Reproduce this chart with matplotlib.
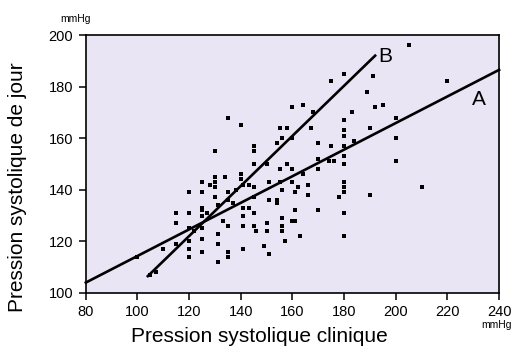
import numpy as np
import matplotlib.pyplot as plt

# clinique (x) vs jour (y)
clin = [205,180,175,191,220,189,160,164,168,192,195,183,180,200,167,155,158,156,160,180,
        180,190,154,170,175,180,184,180,170,174,176,180,200,158,150,155,160,164,170,180,
        180,180,178,180,180,210,190,170,151,155,156,160,161,162,166,166,151,154,154,161,
        161,156,150,150,156,156,157,163,149,151,130,145,145,140,145,140,140,125,130,134,
        130,125,120,130,135,138,141,143,145,145,137,135,115,115,120,125,125,127,141,143,
        145,141,133,135,141,145,146,160,120,125,122,110,115,120,120,125,125,131,131,135,
        135,131,120,141,100,105,107,200,135,130,125,128,131]
jour = [196,185,182,184,182,178,172,173,170,172,173,170,167,168,164,164,164,160,160,163,
        161,164,158,158,157,157,159,153,152,151,151,150,151,150,150,148,148,146,148,143,
        141,139,137,131,122,141,138,132,143,143,140,143,139,141,142,138,136,136,135,132,
        128,129,127,124,126,124,120,122,118,115,155,157,155,165,150,146,144,143,145,145,
        141,139,139,137,139,140,142,142,141,137,135,136,131,127,131,132,130,131,133,133,
        131,130,128,126,126,126,124,128,125,125,124,117,119,120,117,121,116,123,119,116,
        114,112,114,117,114,107,108,160,168,143,133,142,134]

# regression lines (end points in mmHg)
line_a_x = [80, 240]
line_a_y = [104, 186.5]
line_b_x = [104, 192]
line_b_y = [106.5, 192]

fig = plt.figure(figsize=(5.14, 3.47), dpi=100)
plt.rcParams['font.family'] = ['Liberation Sans', 'DejaVu Sans']
ax = fig.add_axes([0.167, 0.156, 0.804, 0.743])
ax.set_facecolor('#e9e5f5')

ax.scatter(clin, jour, s=8, marker='s', c='black', linewidths=0, zorder=3)
ax.plot(line_a_x, line_a_y, color='black', lw=1.9, zorder=4, clip_on=False)
ax.plot(line_b_x, line_b_y, color='black', lw=1.9, zorder=4)
ax.text(232, 175, 'A', fontsize=15, ha='center', va='center')
ax.text(196, 191.5, 'B', fontsize=15, ha='center', va='center')

ax.set_xlim(80, 240)
ax.set_ylim(100, 200)
ax.set_xticks(np.arange(80, 241, 20))
ax.set_yticks(np.arange(100, 201, 20))
ax.tick_params(direction='out', length=5, width=1.1, labelsize=10.5, pad=4)
for s in ax.spines.values():
    s.set_linewidth(1.2)

ax.set_xlabel('Pression systolique clinique', fontsize=15)
ax.xaxis.set_label_coords(0.421, -0.132)
ax.set_ylabel('Pression systolique de jour', fontsize=15)
ax.yaxis.set_label_coords(-0.142, 0.41)
fig.text(0.117, 0.945, 'mmHg', fontsize=7.5, ha='left', va='center')
fig.text(0.995, 0.063, 'mmHg', fontsize=7.5, ha='right', va='center')

fig.savefig('out.png', dpi=100)
